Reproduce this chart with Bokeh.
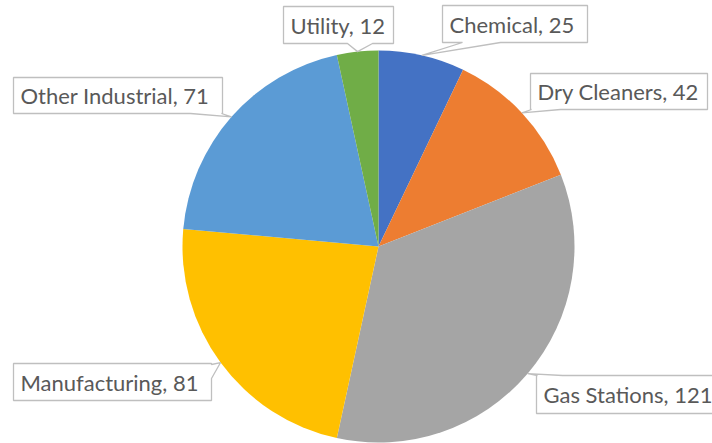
import math
from bokeh.plotting import figure
from bokeh.models import Range1d
from bokeh.embed import file_html
from bokeh.resources import INLINE
from bokeh.core.properties import value

# ---- data ----
categories = ["Chemical", "Dry Cleaners", "Gas Stations", "Manufacturing", "Other Industrial", "Utility"]
counts = [25, 42, 121, 81, 71, 12]
colors = ["#4472C4", "#ED7D31", "#A5A5A5", "#FFC000", "#5B9BD5", "#70AD47"]

# ---- layout (page pixel coordinates) ----
W, H = 712, 443
def Y(py):
    return H - py

cx, cy, r = 378, 246, 196

# label boxes: (left, top, right, bottom), pointer side, pointer base
boxes = [
    ((442, 5, 587, 42), "bottom", (462, 500)),
    ((530, 73, 707, 109), "bottom", (531, 560)),
    ((536, 375, 760, 413), "top", (537, 562)),
    ((13, 363, 211, 400), "right", (364, 378)),
    ((13, 77, 222, 113), "bottom", (190, 221)),
    ((283, 6, 393, 43), "bottom", (347, 372)),
]

p = figure(width=W, height=H, x_range=Range1d(0, W), y_range=Range1d(0, H),
           output_backend="svg", toolbar_location=None, min_border=0)
p.axis.visible = False
p.grid.visible = False
p.outline_line_color = None
p.background_fill_color = "white"

total = sum(counts)
starts, ends, mids = [], [], []
cum = 0
for v in counts:
    starts.append(math.pi / 2 - 2 * math.pi * cum / total)
    mids.append(2 * math.pi * (cum + v / 2) / total)
    cum += v
    ends.append(math.pi / 2 - 2 * math.pi * cum / total)

p.wedge(x=cx, y=Y(cy), radius=r, start_angle=starts, end_angle=ends,
        direction="clock", fill_color=colors, line_color=None)

xs, ys = [], []
tx, ty, labels = [], [], []
for (box, side, base), cat, v, m in zip(boxes, categories, counts, mids):
    L, T, R, B = box
    tip = (cx + r * math.sin(m), cy - r * math.cos(m))
    a, b = base
    if side == "bottom":
        pts = [(L, T), (R, T), (R, B), (b, B), tip, (a, B), (L, B)]
    elif side == "top":
        pts = [(L, T), (a, T), tip, (b, T), (R, T), (R, B), (L, B)]
    else:  # right
        pts = [(L, T), (R, T), (R, a), tip, (R, b), (R, B), (L, B)]
    xs.append([pt[0] for pt in pts])
    ys.append([Y(pt[1]) for pt in pts])
    tx.append(L + 7)
    ty.append(Y((T + B) / 2))
    labels.append(f"{cat}, {v}")

p.patches(xs, ys, fill_color="white", line_color="#BFBFBF", line_width=1.3)
p.text(x=tx, y=ty, text=labels, text_font=value("Lato"), text_font_size="22px",
       text_color="#595959", text_align="left", text_baseline="middle")

open("out.html", "w").write(file_html(p, INLINE))
